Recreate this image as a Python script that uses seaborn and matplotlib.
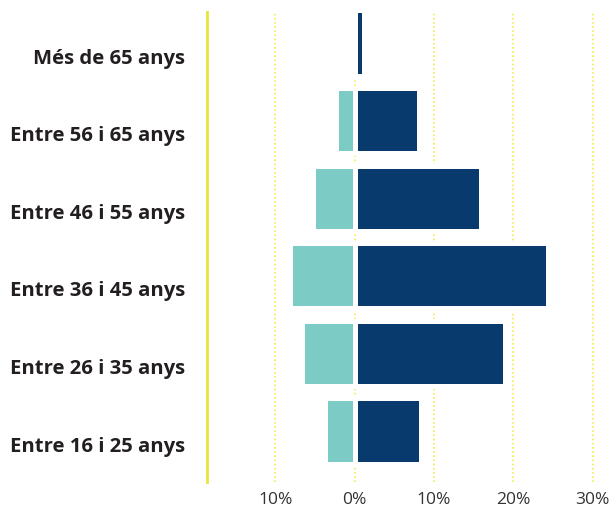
import matplotlib
matplotlib.use("Agg")
import matplotlib.pyplot as plt
import matplotlib.transforms as mtransforms
import seaborn as sns
import pandas as pd
from matplotlib.ticker import FuncFormatter

categories = ["Més de 65 anys", "Entre 56 i 65 anys", "Entre 46 i 55 anys",
              "Entre 36 i 45 anys", "Entre 26 i 35 anys", "Entre 16 i 25 anys"]
left_values = [0.0, 2.3, 5.3, 8.1, 6.6, 3.8]      # teal series (drawn to the left)
right_values = [1.2, 8.05, 15.9, 24.4, 19.0, 8.4]  # navy series (drawn to the right)
tick_values = [-10, 0, 10, 20, 30]

df = pd.DataFrame({
    "grup": categories * 2,
    "valor": [-v for v in left_values] + right_values,
    "serie": ["A"] * len(categories) + ["B"] * len(categories),
})

sns.set_style("white")
plt.rcParams["font.family"] = ["Open Sans", "DejaVu Sans"]

fig = plt.figure(figsize=(6.10, 5.07), dpi=100)
ax = fig.add_axes([0.3389, 0.0493, 0.978 - 0.3389, 0.9763 - 0.0493])

sns.barplot(data=df, y="grup", x="valor", hue="serie", order=categories,
            palette={"A": "#7ccbc4", "B": "#093a6e"}, dodge=False, saturation=1,
            width=0.84, edgecolor="white", linewidth=3.6, legend=False, ax=ax)

ax.set_xlim(-18.66, 30.5)
ax.set_ylim(5.657, -0.40)
ax.set_xticks(tick_values)
ax.xaxis.set_major_formatter(FuncFormatter(lambda v, p: f"{abs(v):.0f}%"))
for t in tick_values:
    ax.axvline(t, color="#f0ec50", linestyle=(0, (1, 1.5)), linewidth=1.2, zorder=0)

for s in ["top", "right", "bottom"]:
    ax.spines[s].set_visible(False)
ax.spines["left"].set_color("#e8e43a")
ax.spines["left"].set_linewidth(2)

ax.set_xlabel("")
ax.set_ylabel("")
ax.tick_params(axis="x", length=0, pad=7, labelsize=12.5, labelcolor="#333333")
ax.tick_params(axis="y", length=0, pad=15.5, labelsize=14.6, labelcolor="#231f20")
offset = mtransforms.ScaledTranslation(0, -0.13, fig.dpi_scale_trans)
for lab in ax.get_yticklabels():
    lab.set_fontweight("bold")
    lab.set_transform(lab.get_transform() + offset)

fig.savefig("out.png", dpi=100)
